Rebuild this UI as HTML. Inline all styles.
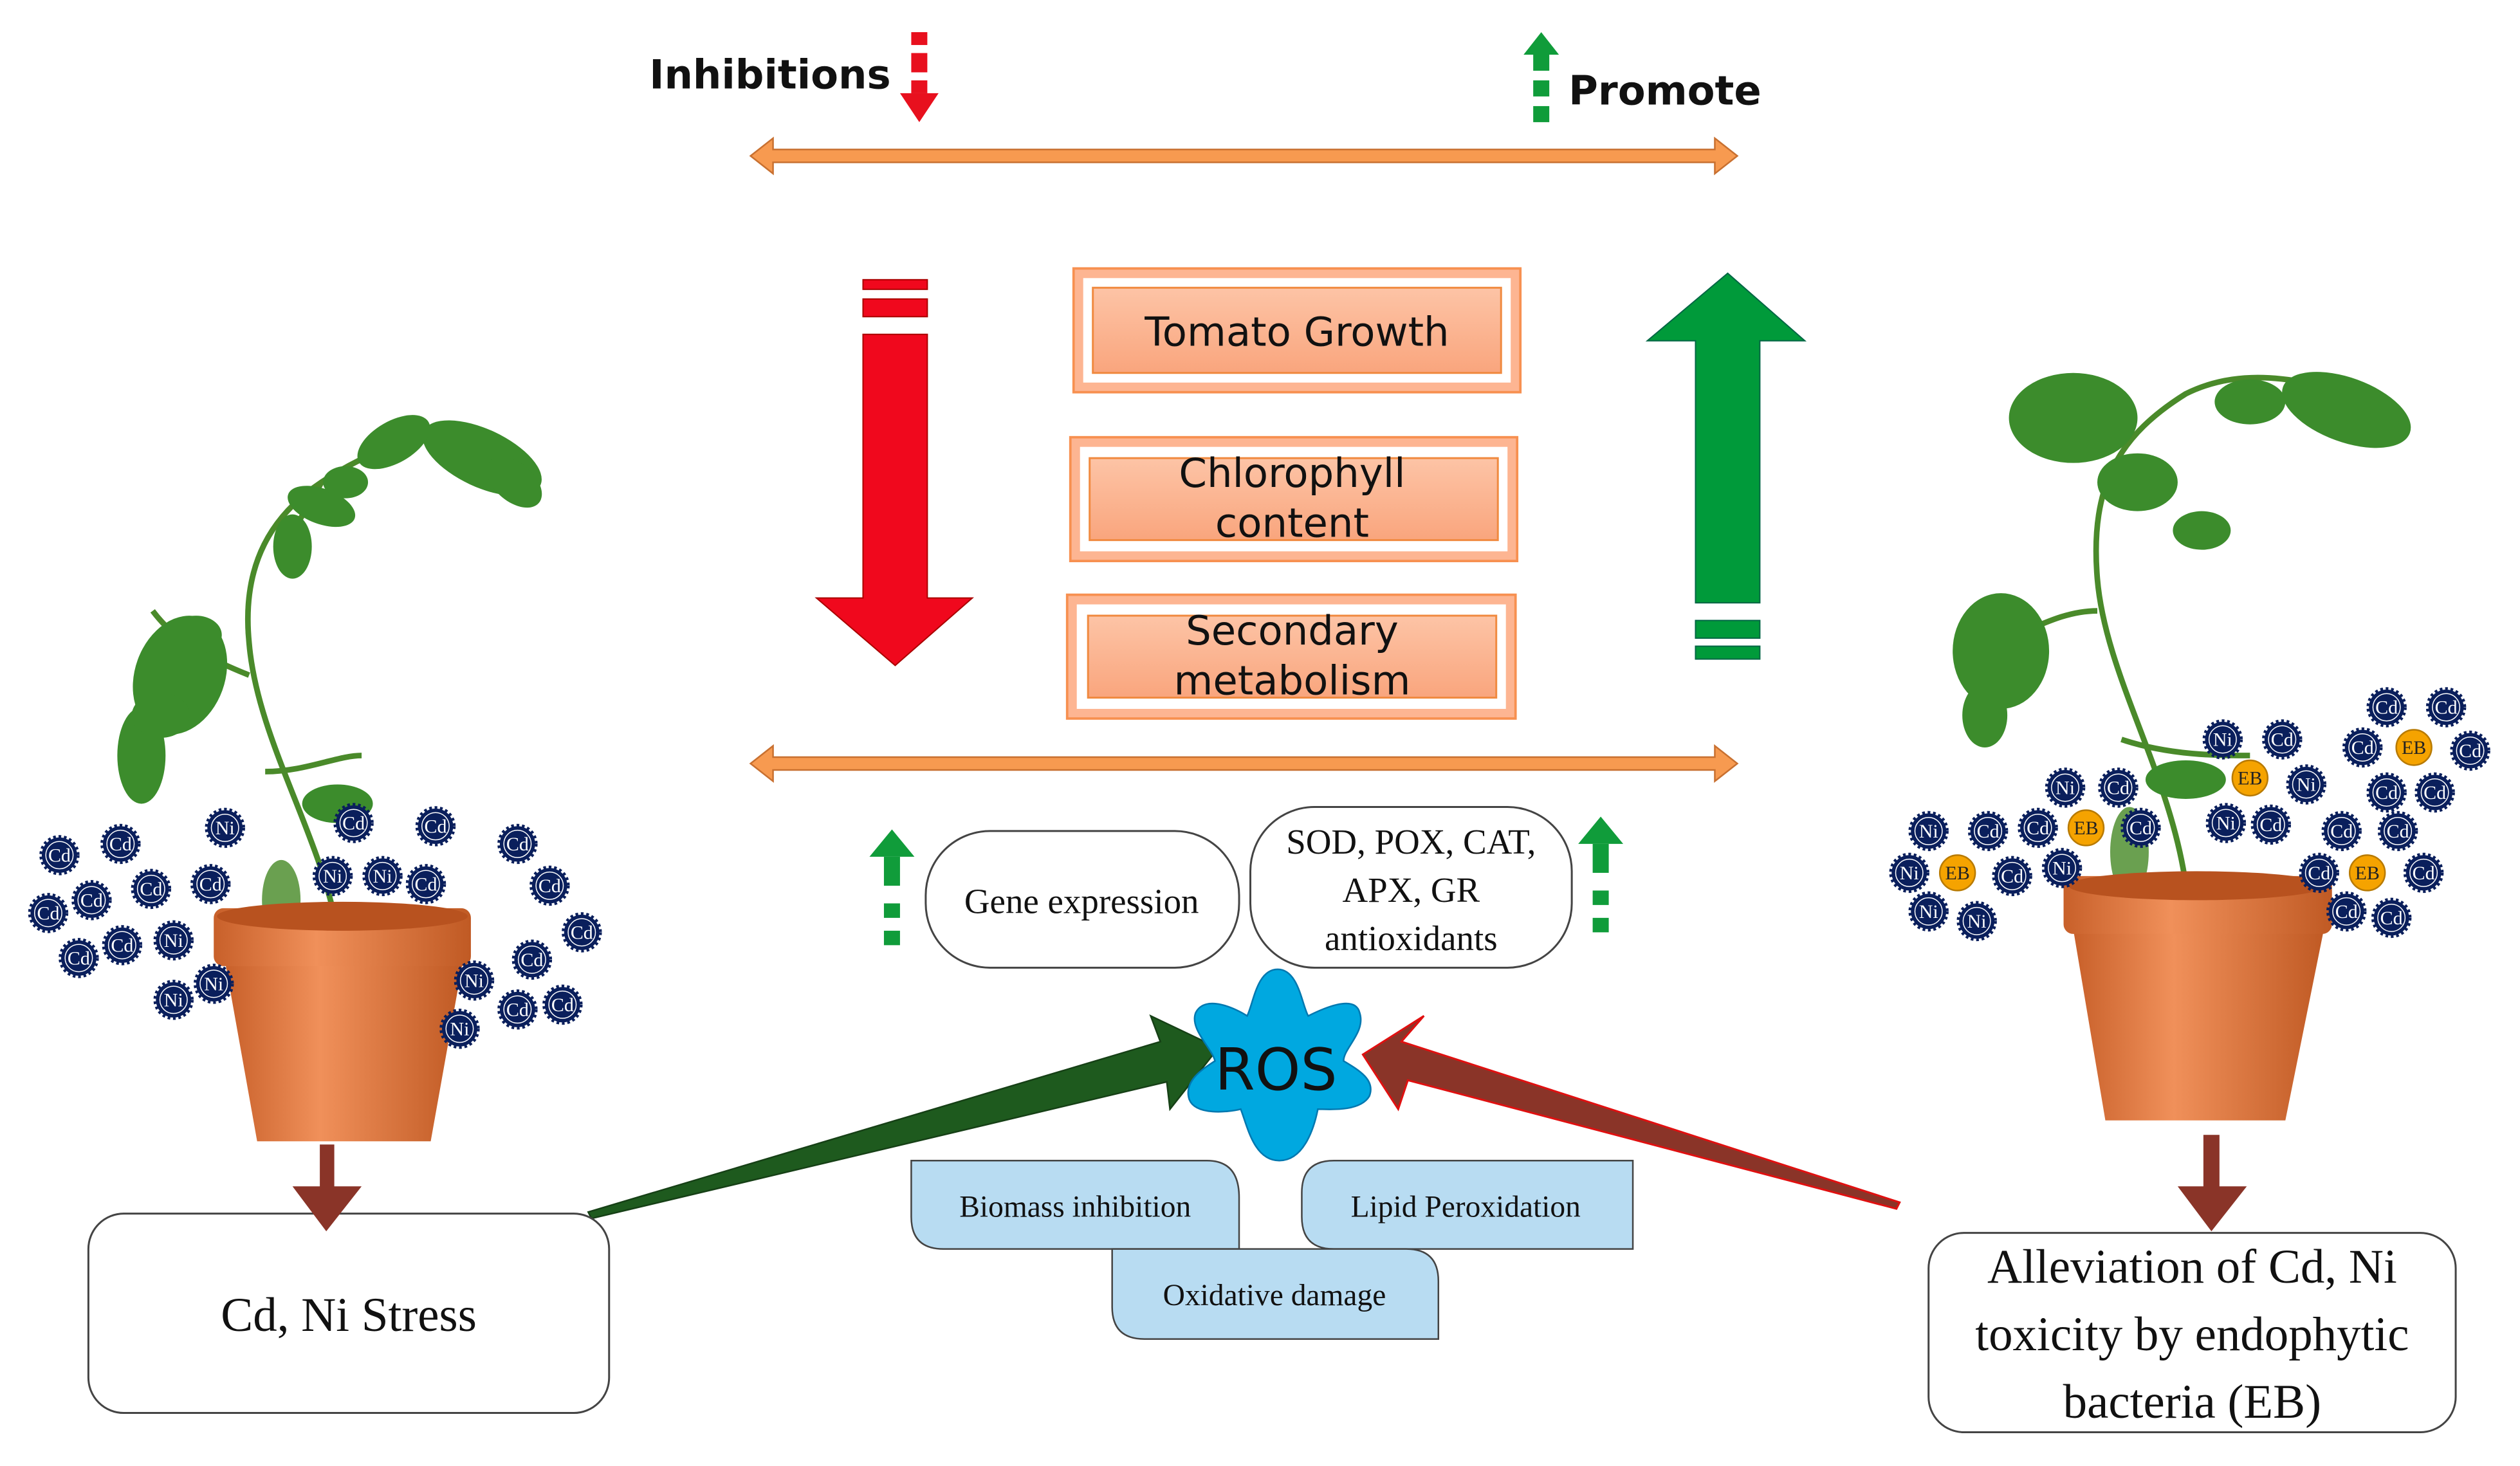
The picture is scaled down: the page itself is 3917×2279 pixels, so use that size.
<!DOCTYPE html>
<html><head><meta charset="utf-8"><style>
html,body{margin:0;padding:0;background:#fff;}
svg{display:block;}
text{font-family:"Liberation Serif",serif;}
.s{font-family:"DejaVu Sans","Liberation Sans",sans-serif;}
</style></head><body>
<svg width="3917" height="2279" viewBox="0 0 1568 912" preserveAspectRatio="none" xmlns="http://www.w3.org/2000/svg">
<defs>
<linearGradient id="og" x1="0" y1="0" x2="0" y2="1"><stop offset="0" stop-color="#fdc4a6"/><stop offset="1" stop-color="#f9a57d"/></linearGradient>
<linearGradient id="pot" x1="0" y1="0" x2="1" y2="0"><stop offset="0" stop-color="#c8602a"/><stop offset="0.4" stop-color="#f0905a"/><stop offset="1" stop-color="#c05a24"/></linearGradient>
<g id="b"><circle r="11" fill="#0a1f5c" stroke="#0a1f5c" stroke-width="3" stroke-dasharray="1.6 1.6"/><circle r="8.5" fill="none" stroke="#fff" stroke-width="0.6"/></g>
<g id="eb"><circle r="11" fill="#f5a300" stroke="#b87a00" stroke-width="1"/></g>
</defs>

<!-- top legend -->
<text x="404" y="55" class="s" font-size="25" font-weight="bold" fill="#111">Inhibitions</text>
<rect x="567" y="20" width="10" height="8" fill="#e8101e"/><rect x="567" y="33" width="10" height="12" fill="#e8101e"/><rect x="567" y="50" width="10" height="8" fill="#e8101e"/>
<polygon points="560,58 584,58 572,76" fill="#e8101e"/>
<polygon points="948,34 970,34 959,20" fill="#109c3a"/>
<rect x="954" y="34" width="10" height="10" fill="#109c3a"/><rect x="954" y="50" width="10" height="10" fill="#109c3a"/><rect x="954" y="66" width="10" height="10" fill="#109c3a"/>
<text x="976" y="65" class="s" font-size="25" font-weight="bold" fill="#111">Promote</text>

<!-- orange double arrows -->
<g fill="#f79a50" stroke="#c87030" stroke-width="1">
<polygon points="467,97 481,86 481,93 1067,93 1067,86 1081,97 1067,108 1067,101 481,101 481,108"/>
<polygon points="467,475 481,464 481,471 1067,471 1067,464 1081,475 1067,486 1067,479 481,479 481,486"/>
</g>

<!-- red big arrow -->
<g fill="#f0081d" stroke="#a00" stroke-width="0.8">
<rect x="537" y="174" width="40" height="6"/><rect x="537" y="186" width="40" height="11"/>
<polygon points="537,208 577,208 577,372 605,372 557,414 508,372 537,372"/>
</g>
<!-- green big arrow -->
<g fill="#009a3a" stroke="#064" stroke-width="0.8">
<polygon points="1075,170 1123,212 1095,212 1095,375 1055,375 1055,212 1025,212"/>
<rect x="1055" y="386" width="40" height="11"/><rect x="1055" y="402" width="40" height="8"/>
</g>

<!-- orange boxes -->
<g>
<rect x="668" y="167" width="278" height="77" fill="#fdb592" stroke="#f79050" stroke-width="1.5"/>
<rect x="674" y="173" width="266" height="65" fill="#fff"/>
<rect x="680" y="179" width="254" height="53" fill="url(#og)" stroke="#f08a40" stroke-width="1.2"/>
<text x="807" y="215" class="s" font-size="25" text-anchor="middle" fill="#111">Tomato Growth</text>

<rect x="666" y="272" width="278" height="77" fill="#fdb592" stroke="#f79050" stroke-width="1.5"/>
<rect x="672" y="278" width="266" height="65" fill="#fff"/>
<rect x="678" y="285" width="254" height="51" fill="url(#og)" stroke="#f08a40" stroke-width="1.2"/>
<text x="804" y="303" class="s" font-size="25" text-anchor="middle" fill="#111">Chlorophyll</text>
<text x="804" y="334" class="s" font-size="25" text-anchor="middle" fill="#111">content</text>

<rect x="664" y="370" width="279" height="77" fill="#fdb592" stroke="#f79050" stroke-width="1.5"/>
<rect x="670" y="376" width="267" height="65" fill="#fff"/>
<rect x="677" y="383" width="254" height="51" fill="url(#og)" stroke="#f08a40" stroke-width="1.2"/>
<text x="804" y="401" class="s" font-size="25" text-anchor="middle" fill="#111">Secondary</text>
<text x="804" y="432" class="s" font-size="25" text-anchor="middle" fill="#111">metabolism</text>
</g>

<!-- small green dashed arrows -->
<g fill="#109c3a">
<polygon points="541,533 569,533 555,516"/><rect x="550" y="533" width="10" height="18"/><rect x="550" y="562" width="10" height="9"/><rect x="550" y="579" width="10" height="9"/>
<polygon points="982,525 1010,525 996,508"/><rect x="991" y="525" width="10" height="18"/><rect x="991" y="554" width="10" height="9"/><rect x="991" y="571" width="10" height="9"/>
</g>

<!-- gene / SOD boxes -->
<rect x="576" y="517" width="195" height="85" rx="40" fill="#fff" stroke="#444" stroke-width="1.2"/>
<text x="673" y="568" font-size="22" text-anchor="middle" fill="#111">Gene expression</text>
<rect x="778" y="502" width="200" height="100" rx="40" fill="#fff" stroke="#444" stroke-width="1.2"/>
<text x="878" y="531" font-size="22" text-anchor="middle" fill="#111">SOD, POX, CAT,</text>
<text x="878" y="561" font-size="22" text-anchor="middle" fill="#111">APX, GR</text>
<text x="878" y="591" font-size="22" text-anchor="middle" fill="#111">antioxidants</text>

<!-- wedge arrows -->
<polygon points="366,754 722,648 716,632 758,652 728,690 726,673 368,758" fill="#1e5a1e" stroke="#164016" stroke-width="1"/>
<polygon points="1182,748 872,648 886,632 848,656 870,690 876,672 1180,752" fill="#8a3428" stroke="#e01010" stroke-width="1.2"/>

<!-- ROS star -->
<path d="M795,603 C808,603 810,625 814,632 C822,628 843,618 846,630 C850,642 836,652 836,660 C846,666 856,672 852,682 C846,692 826,690 820,690 C818,700 812,722 796,722 C780,722 776,700 772,690 C764,692 744,694 740,684 C736,672 750,664 756,660 C754,652 740,640 744,630 C750,618 770,628 776,632 C780,624 782,603 795,603 Z" fill="#00a8e0" stroke="#0078b0" stroke-width="1"/>
<text x="794" y="678" class="s" font-size="36" text-anchor="middle" fill="#111">ROS</text>

<!-- blue boxes -->
<g fill="#b8dcf2" stroke="#444" stroke-width="1">
<path d="M567,722 H751 Q771,722 771,745 V777 H587 Q567,777 567,757 Z"/>
<path d="M830,722 H1016 V777 H830 Q810,777 810,757 V742 Q810,722 830,722 Z"/>
<path d="M692,777 H875 Q895,777 895,797 V833 H712 Q692,833 692,813 Z"/>
</g>
<text x="669" y="757" font-size="19" text-anchor="middle" fill="#111">Biomass inhibition</text>
<text x="912" y="757" font-size="19" text-anchor="middle" fill="#111">Lipid Peroxidation</text>
<text x="793" y="812" font-size="19" text-anchor="middle" fill="#111">Oxidative damage</text>

<!-- bottom boxes -->
<rect x="55" y="755" width="324" height="124" rx="22" fill="#fff" stroke="#444" stroke-width="1.2"/>
<text x="217" y="828" font-size="30" text-anchor="middle" fill="#111">Cd, Ni Stress</text>
<rect x="1200" y="767" width="328" height="124" rx="22" fill="#fff" stroke="#444" stroke-width="1.2"/>
<text x="1364" y="798" font-size="30" text-anchor="middle" fill="#111">Alleviation of Cd, Ni</text>
<text x="1364" y="840" font-size="30" text-anchor="middle" fill="#111">toxicity by endophytic</text>
<text x="1364" y="882" font-size="30" text-anchor="middle" fill="#111">bacteria (EB)</text>

<!-- brown arrows -->
<g fill="#8a3428">
<rect x="199" y="712" width="9" height="30"/><polygon points="182,738 225,738 203,766"/>
<rect x="1371" y="706" width="10" height="36"/><polygon points="1355,738 1398,738 1376,766"/>
</g>

<!-- left plant -->
<g stroke="#4a8a2a" stroke-width="3.5" fill="none">
<path d="M210,580 C200,520 160,460 155,400 C150,350 170,320 200,300 C230,280 260,270 290,270"/>
<path d="M155,420 C130,410 110,400 95,380"/><path d="M165,480 C190,480 210,470 225,470"/><path d="M200,300 C190,320 180,330 180,340"/>
</g>
<g fill="#3c8c2c">
<ellipse cx="300" cy="285" rx="40" ry="18" transform="rotate(25 300 285)"/>
<ellipse cx="320" cy="300" rx="20" ry="12" transform="rotate(40 320 300)"/>
<ellipse cx="245" cy="275" rx="25" ry="13" transform="rotate(-30 245 275)"/>
<ellipse cx="200" cy="315" rx="22" ry="11" transform="rotate(20 200 315)"/>
<ellipse cx="182" cy="340" rx="12" ry="20"/>
<ellipse cx="215" cy="300" rx="14" ry="10"/>
<ellipse cx="112" cy="420" rx="28" ry="38" transform="rotate(20 112 420)"/>
<ellipse cx="88" cy="470" rx="15" ry="30"/>
<ellipse cx="122" cy="395" rx="16" ry="12"/>
<ellipse cx="100" cy="445" rx="18" ry="14"/>
<ellipse cx="210" cy="500" rx="22" ry="12"/>
<ellipse cx="175" cy="560" rx="12" ry="25" fill="#6aa050"/>
</g>
<!-- left pot -->
<polygon points="140,598 288,598 268,710 160,710" fill="url(#pot)"/>
<rect x="133" y="565" width="160" height="36" rx="6" fill="url(#pot)"/>
<ellipse cx="213" cy="570" rx="78" ry="9" fill="#b8521f"/>

<!-- right plant -->
<g stroke="#4a8a2a" stroke-width="3.5" fill="none">
<path d="M1360,550 C1350,480 1310,420 1305,360 C1300,300 1320,270 1360,245 C1400,225 1440,240 1470,245"/>
<path d="M1305,380 C1280,380 1260,395 1240,400"/><path d="M1320,460 C1350,470 1380,470 1400,470"/>
</g>
<g fill="#3c8c2c">
<ellipse cx="1460" cy="255" rx="42" ry="20" transform="rotate(20 1460 255)"/>
<ellipse cx="1290" cy="260" rx="40" ry="28"/>
<ellipse cx="1330" cy="300" rx="25" ry="18"/>
<ellipse cx="1245" cy="405" rx="30" ry="36"/>
<ellipse cx="1235" cy="445" rx="14" ry="20"/>
<ellipse cx="1370" cy="330" rx="18" ry="12"/>
<ellipse cx="1400" cy="250" rx="22" ry="14"/>
<ellipse cx="1360" cy="485" rx="25" ry="12"/>
<ellipse cx="1325" cy="530" rx="12" ry="28" fill="#6aa050"/>
</g>
<!-- right pot -->
<polygon points="1290,578 1446,578 1422,697 1310,697" fill="url(#pot)"/>
<rect x="1284" y="545" width="167" height="36" rx="6" fill="url(#pot)"/>
<ellipse cx="1367" cy="551" rx="80" ry="9" fill="#b8521f"/>

<!-- badges -->
<g font-size="12" fill="#fff" text-anchor="middle">
<g transform="translate(37,532)"><use href="#b"/><text y="4">Cd</text></g>
<g transform="translate(75,525)"><use href="#b"/><text y="4">Cd</text></g>
<g transform="translate(140,515)"><use href="#b"/><text y="4">Ni</text></g>
<g transform="translate(220,512)"><use href="#b"/><text y="4">Cd</text></g>
<g transform="translate(271,514)"><use href="#b"/><text y="4">Cd</text></g>
<g transform="translate(322,525)"><use href="#b"/><text y="4">Cd</text></g>
<g transform="translate(57,560)"><use href="#b"/><text y="4">Cd</text></g>
<g transform="translate(94,553)"><use href="#b"/><text y="4">Cd</text></g>
<g transform="translate(131,550)"><use href="#b"/><text y="4">Cd</text></g>
<g transform="translate(207,545)"><use href="#b"/><text y="4">Ni</text></g>
<g transform="translate(238,545)"><use href="#b"/><text y="4">Ni</text></g>
<g transform="translate(265,550)"><use href="#b"/><text y="4">Cd</text></g>
<g transform="translate(342,551)"><use href="#b"/><text y="4">Cd</text></g>
<g transform="translate(30,568)"><use href="#b"/><text y="4">Cd</text></g>
<g transform="translate(108,585)"><use href="#b"/><text y="4">Ni</text></g>
<g transform="translate(76,588)"><use href="#b"/><text y="4">Cd</text></g>
<g transform="translate(49,596)"><use href="#b"/><text y="4">Cd</text></g>
<g transform="translate(362,580)"><use href="#b"/><text y="4">Cd</text></g>
<g transform="translate(295,610)"><use href="#b"/><text y="4">Ni</text></g>
<g transform="translate(331,597)"><use href="#b"/><text y="4">Cd</text></g>
<g transform="translate(108,622)"><use href="#b"/><text y="4">Ni</text></g>
<g transform="translate(133,612)"><use href="#b"/><text y="4">Ni</text></g>
<g transform="translate(286,640)"><use href="#b"/><text y="4">Ni</text></g>
<g transform="translate(322,628)"><use href="#b"/><text y="4">Cd</text></g>
<g transform="translate(350,625)"><use href="#b"/><text y="4">Cd</text></g>

<g transform="translate(1383,460)"><use href="#b"/><text y="4">Ni</text></g>
<g transform="translate(1420,460)"><use href="#b"/><text y="4">Cd</text></g>
<g transform="translate(1285,490)"><use href="#b"/><text y="4">Ni</text></g>
<g transform="translate(1318,490)"><use href="#b"/><text y="4">Cd</text></g>
<g transform="translate(1435,488)"><use href="#b"/><text y="4">Ni</text></g>
<g transform="translate(1385,512)"><use href="#b"/><text y="4">Ni</text></g>
<g transform="translate(1413,513)"><use href="#b"/><text y="4">Cd</text></g>
<g transform="translate(1485,440)"><use href="#b"/><text y="4">Cd</text></g>
<g transform="translate(1522,440)"><use href="#b"/><text y="4">Cd</text></g>
<g transform="translate(1470,465)"><use href="#b"/><text y="4">Cd</text></g>
<g transform="translate(1537,467)"><use href="#b"/><text y="4">Cd</text></g>
<g transform="translate(1485,493)"><use href="#b"/><text y="4">Cd</text></g>
<g transform="translate(1515,493)"><use href="#b"/><text y="4">Cd</text></g>
<g transform="translate(1200,517)"><use href="#b"/><text y="4">Ni</text></g>
<g transform="translate(1237,517)"><use href="#b"/><text y="4">Cd</text></g>
<g transform="translate(1268,515)"><use href="#b"/><text y="4">Cd</text></g>
<g transform="translate(1332,515)"><use href="#b"/><text y="4">Cd</text></g>
<g transform="translate(1188,543)"><use href="#b"/><text y="4">Ni</text></g>
<g transform="translate(1252,545)"><use href="#b"/><text y="4">Cd</text></g>
<g transform="translate(1283,540)"><use href="#b"/><text y="4">Ni</text></g>
<g transform="translate(1200,567)"><use href="#b"/><text y="4">Ni</text></g>
<g transform="translate(1230,573)"><use href="#b"/><text y="4">Ni</text></g>
<g transform="translate(1457,517)"><use href="#b"/><text y="4">Cd</text></g>
<g transform="translate(1492,517)"><use href="#b"/><text y="4">Cd</text></g>
<g transform="translate(1443,543)"><use href="#b"/><text y="4">Cd</text></g>
<g transform="translate(1508,543)"><use href="#b"/><text y="4">Cd</text></g>
<g transform="translate(1460,567)"><use href="#b"/><text y="4">Cd</text></g>
<g transform="translate(1488,571)"><use href="#b"/><text y="4">Cd</text></g>
</g>
<g font-size="12" fill="#222" text-anchor="middle">
<g transform="translate(1400,484)"><use href="#eb"/><text y="4">EB</text></g>
<g transform="translate(1298,515)"><use href="#eb"/><text y="4">EB</text></g>
<g transform="translate(1218,543)"><use href="#eb"/><text y="4">EB</text></g>
<g transform="translate(1473,543)"><use href="#eb"/><text y="4">EB</text></g>
<g transform="translate(1502,465)"><use href="#eb"/><text y="4">EB</text></g>
</g>
</svg>
</body></html>
